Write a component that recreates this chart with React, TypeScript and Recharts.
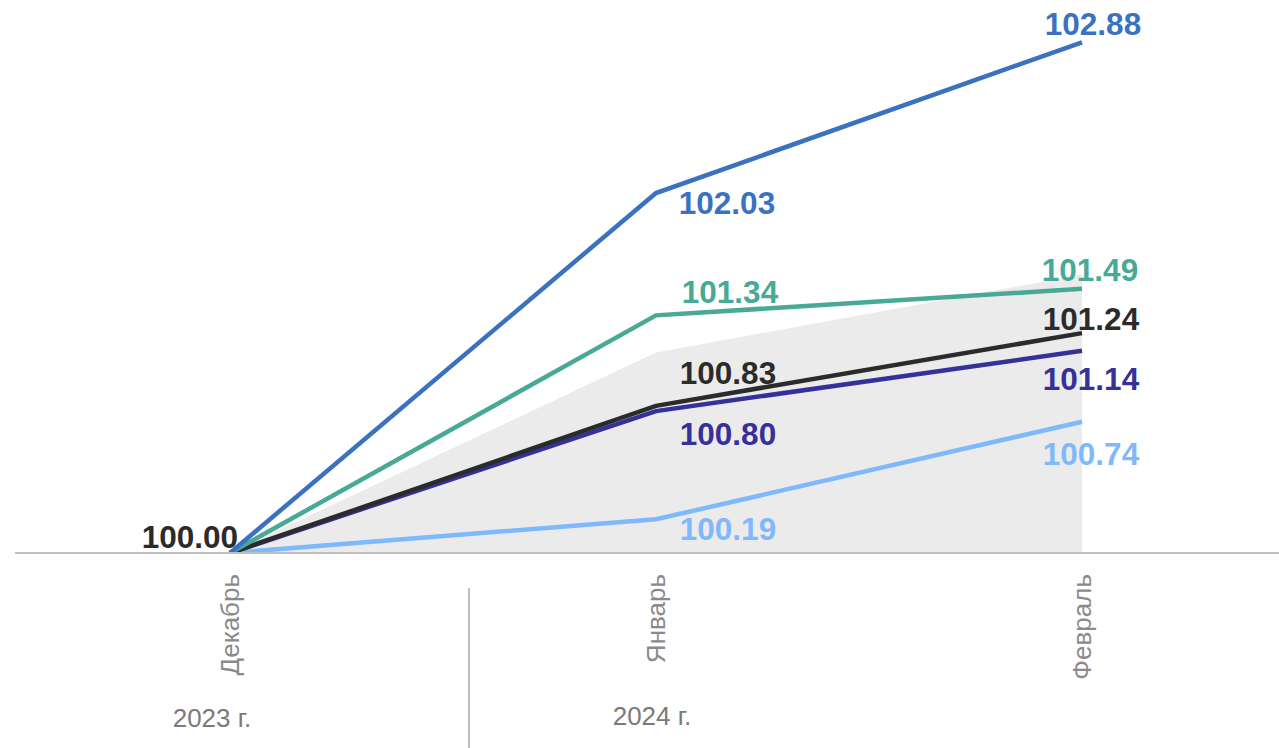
import React from 'react';
import { ComposedChart, Line, Area, XAxis, YAxis, LabelList } from 'recharts';

const months = ['Декабрь', 'Январь', 'Февраль'];
const years = ['2023 г.', '2024 г.'];

const seriesBlue = [100.0, 102.03, 102.88];
const seriesTeal = [100.0, 101.34, 101.49];
const seriesBlack = [100.0, 100.83, 101.24];
const seriesIndigo = [100.0, 100.8, 101.14];
const seriesLight = [100.0, 100.19, 100.74];
const bandTop = [100.0, 101.13, 101.57];

const W = 1279;
const H = 748;
const AXIS = '#bfbfbf';
const LABEL_FONT = { fontFamily: 'Liberation Sans, Arial, sans-serif', fontSize: 31.5, fontWeight: 700 };

const data = months.map((m, i) => ({
  month: m,
  blue: seriesBlue[i],
  teal: seriesTeal[i],
  black: seriesBlack[i],
  indigo: seriesIndigo[i],
  light: seriesLight[i],
  band: bandTop[i],
}));

// label offsets per point index: [dx, dy to baseline, anchor]
type Off = [number, number, 'start' | 'middle' | 'end'] | null;
const SERIES: { key: string; color: string; offs: Off[] }[] = [
  { key: 'light', color: '#7fb9fb', offs: [null, [72, 21, 'middle'], [9, 43, 'middle']] },
  { key: 'indigo', color: '#36309a', offs: [null, [72, 34, 'middle'], [9, 39, 'middle']] },
  { key: 'black', color: '#2b2b2b', offs: [[8, -5, 'end'], [72, -22, 'middle'], [9, -3, 'middle']] },
  { key: 'teal', color: '#47a996', offs: [null, [74, -12, 'middle'], [8, -8, 'middle']] },
  { key: 'blue', color: '#3a71c1', offs: [null, [71, 21, 'middle'], [11, -7, 'middle']] },
];

const makeLabel = (color: string, offs: Off[]) => (props: any) => {
  const { x, y, value, index } = props;
  const o = offs[index];
  if (!o) return null;
  return (
    <text x={x + o[0]} y={y + o[1]} textAnchor={o[2]} fill={color} {...LABEL_FONT}>
      {Number(value).toFixed(2)}
    </text>
  );
};

const MonthTick = (props: any) => {
  const { x, y, payload } = props;
  return (
    <text
      transform={`translate(${x + 9}, ${y + 13}) rotate(-90)`}
      textAnchor="end"
      fill="#8a8a8a"
      fontFamily="Liberation Sans, Arial, sans-serif"
      fontSize={26}
    >
      {payload.value}
    </text>
  );
};

export default function App() {
  return (
    <div style={{ position: 'absolute', left: 0, top: 0, width: W, height: H, background: '#fff' }}>
      <ComposedChart width={W} height={H} data={data} margin={{ top: 21, right: 0, left: 15, bottom: 0 }}>
        <XAxis
          dataKey="month"
          scale="point"
          padding={{ left: 215, right: 197 }}
          height={195}
          axisLine={{ stroke: AXIS, strokeWidth: 2 }}
          tickLine={false}
          tick={<MonthTick />}
          interval={0}
        />
        <YAxis hide domain={[100, 103]} allowDataOverflow />
        <Area
          dataKey="band"
          type="linear"
          stroke="none"
          fill="#ebebeb"
          fillOpacity={1}
          baseValue={100}
          isAnimationActive={false}
        />
        {SERIES.map(s => (
          <Line
            key={s.key}
            dataKey={s.key}
            type="linear"
            stroke={s.color}
            strokeWidth={4.5}
            dot={false}
            activeDot={false}
            isAnimationActive={false}
          >
            <LabelList dataKey={s.key} content={makeLabel(s.color, s.offs)} />
          </Line>
        ))}
      </ComposedChart>
      <svg width={W} height={H} style={{ position: 'absolute', left: 0, top: 0, pointerEvents: 'none' }}>
        <line x1={469} y1={588} x2={469} y2={748} stroke={AXIS} strokeWidth={2} />
        <text x={212} y={727} textAnchor="middle" fill="#7a7a7a" fontFamily="Liberation Sans, Arial, sans-serif" fontSize={26}>
          {years[0]}
        </text>
        <text x={652} y={725} textAnchor="middle" fill="#7a7a7a" fontFamily="Liberation Sans, Arial, sans-serif" fontSize={26}>
          {years[1]}
        </text>
      </svg>
    </div>
  );
}
